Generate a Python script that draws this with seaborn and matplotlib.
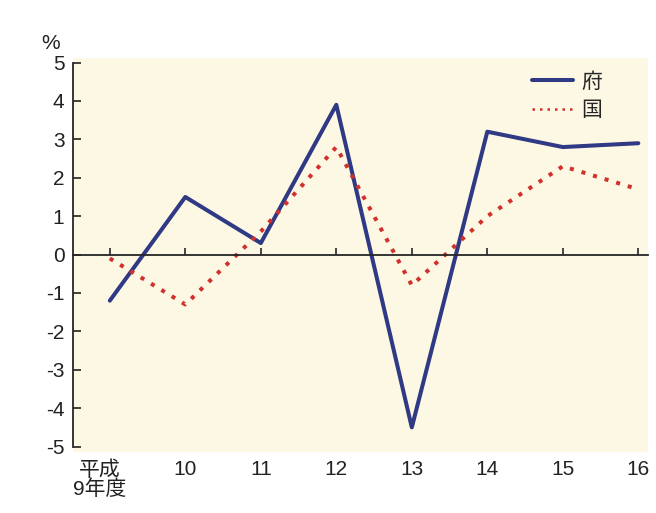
import numpy as np
import pandas as pd
import matplotlib
matplotlib.use('Agg')
import matplotlib.pyplot as plt
import matplotlib.transforms as mtransforms
import seaborn as sns

# 年度 (平成9年度 - 16年度)
years = ['平成\n9年度', '10', '11', '12', '13', '14', '15', '16']
fu = [-1.2, 1.5, 0.3, 3.9, -4.5, 3.2, 2.8, 2.9]      # 府
kuni = [-0.1, -1.3, 0.6, 2.8, -0.8, 1.0, 2.3, 1.7]   # 国
series_names = ['府', '国']

sns.set_style('ticks')
plt.rcParams['font.family'] = ['Liberation Sans', 'Noto Sans CJK JP', 'DejaVu Sans']

df = pd.DataFrame({
    'pos': list(range(len(years))) * 2,
    'value': fu + kuni,
    'series': [series_names[0]] * len(fu) + [series_names[1]] * len(kuni),
})

fig = plt.figure(figsize=(6.56, 5.13), dpi=100)
ax = fig.add_axes([0.111, 0.119, 0.877, 0.768])
ax.set_facecolor('#fdf8e4')

sns.lineplot(data=df, x='pos', y='value', hue='series', style='series',
             palette={'府': '#2f3984', '国': '#d0312d'},
             dashes={'府': '', '国': (1, 2)},
             linewidth=2.9, sort=False, ax=ax)
# thinner dotted line for 国
for line in ax.get_lines():
    if line.get_label() == '国':
        line.set_linewidth(1.8)

ax.set_xlim(-0.49, 7.13)
ax.set_ylim(-5.14, 5.12)
ax.set_yticks(range(-5, 6))
ax.set_yticklabels([str(v) for v in range(-5, 6)], fontsize=15)
ax.tick_params(axis='y', direction='in', length=6, width=1.2, pad=6, colors='#222222')
ax.spines['left'].set_bounds(-5, 5)
ax.spines['left'].set_linewidth(1.3)
ax.spines['top'].set_visible(False)
ax.spines['right'].set_visible(False)

# zero axis with small upward ticks
ax.spines['bottom'].set_position(('data', 0))
ax.spines['bottom'].set_linewidth(1.3)
ax.set_xticks(range(len(years)))
ax.tick_params(axis='x', direction='in', length=5, width=1.2, labelbottom=False)

# category labels below the plot
sec = ax.secondary_xaxis('bottom')
sec.set_xticks(range(len(years)))
sec.set_xticklabels(years, fontsize=15, linespacing=0.95, va='top')
sec.tick_params(length=0, pad=6, colors='#222222')
sec.spines['bottom'].set_visible(False)
first = sec.get_xticklabels()[0]
first.set_transform(first.get_transform() +
                    mtransforms.ScaledTranslation(-10 / 100, 0, fig.dpi_scale_trans))

ax.set_xlabel('')
ax.set_ylabel('')
fig.text(0.063, 0.915, '%', fontsize=15, ha='left', va='center', color='#222222')

ax.legend(loc='upper right', bbox_to_anchor=(0.935, 0.985), frameon=False,
          fontsize=15, handlelength=2.0, handletextpad=0.4, labelspacing=0.45,
          borderaxespad=0)

fig.patch.set_facecolor('white')
fig.savefig('out.png', dpi=100)
